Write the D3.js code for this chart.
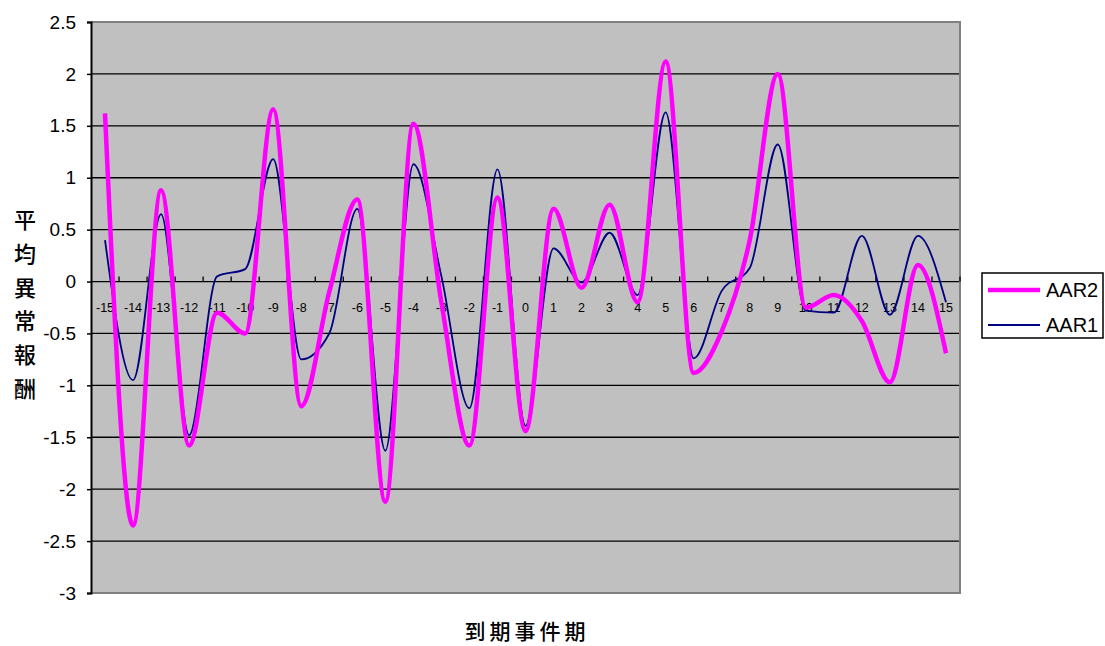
<!DOCTYPE html>
<html><head><meta charset="utf-8">
<script src="https://cdn.jsdelivr.net/npm/d3@7"></script>
<style>body{margin:0;background:#fff;} svg{display:block;}</style>
</head><body>
<svg id="chart" width="1105" height="646"></svg>
<script>
const categories = [-15,-14,-13,-12,-11,-10,-9,-8,-7,-6,-5,-4,-3,-2,-1,0,1,2,3,4,5,6,7,8,9,10,11,12,13,14,15];
const aar2 = [1.62,-2.35,0.88,-1.58,-0.30,-0.50,1.66,-1.20,-0.10,0.79,-2.12,1.52,-0.20,-1.58,0.81,-1.44,0.70,-0.06,0.74,-0.20,2.12,-0.88,-0.48,0.40,2.00,-0.25,-0.13,-0.38,-0.97,0.16,-0.69];
const aar1 = [0.40,-0.95,0.65,-1.48,0.05,0.12,1.18,-0.75,-0.50,0.70,-1.63,1.13,0.05,-1.22,1.08,-1.39,0.32,-0.01,0.47,-0.13,1.63,-0.74,-0.09,0.13,1.32,-0.28,-0.30,0.44,-0.32,0.44,-0.20];
const yTicks = [-3,-2.5,-2,-1.5,-1,-0.5,0,0.5,1,1.5,2,2.5];
const seriesNames = ["AAR2","AAR1"];
const yTitle = "平均異常報酬";
const xTitle = "到期事件期";

const svg = d3.select("#chart");
const L = 91, R = 960, T = 22, B = 593;
const x = d3.scaleBand().domain(categories).range([L, R]).padding(0);
const y = d3.scaleLinear().domain([-3, 2.5]).range([B, T]);
const cx = c => x(c) + x.bandwidth() / 2;

// plot background
svg.append("rect").attr("x", L).attr("y", T).attr("width", R - L).attr("height", B - T).attr("fill", "#C0C0C0");

// gridlines
svg.append("g").selectAll("line").data(yTicks.filter(v => v > -3 && v < 2.5)).join("line")
  .attr("x1", L).attr("x2", R).attr("y1", d => y(d)).attr("y2", d => y(d))
  .attr("stroke", "#000").attr("stroke-width", 1.3);

// border (gray)
svg.append("path").attr("d", `M${L},${T}H${R}V${B}H${L}`).attr("fill", "none").attr("stroke", "#808080").attr("stroke-width", 2);

// y axis
const yAxis = d3.axisLeft(y).tickValues(yTicks).tickSize(4).tickPadding(11).tickFormat(d => String(d));
const gy = svg.append("g").attr("transform", `translate(${L},0)`).call(yAxis);
gy.select(".domain").attr("stroke", "#000").attr("stroke-width", 2);
gy.selectAll(".tick line").attr("stroke", "#000").attr("stroke-width", 1.5);
gy.selectAll(".tick text").attr("font-family", "'Liberation Sans', Arial, sans-serif").attr("font-size", 19).attr("fill", "#000");

// x axis ticks at category boundaries on zero line (pointing up)
const boundaries = categories.slice(1).map(c => x(c)).concat([R]);
svg.append("g").selectAll("line").data(boundaries).join("line")
  .attr("x1", d => d).attr("x2", d => d).attr("y1", y(0)).attr("y2", y(0) - 5)
  .attr("stroke", "#000").attr("stroke-width", 1.3);
svg.append("g").selectAll("text").data(categories).join("text")
  .attr("x", d => cx(d)).attr("y", y(0) + 26).attr("text-anchor", "middle")
  .attr("dominant-baseline", "central")
  .attr("font-family", "'Liberation Sans', Arial, sans-serif").attr("font-size", 12.5).attr("fill", "#000")
  .text(d => d);

// lines
const lineGen = d3.line().x((d, i) => cx(categories[i])).y(d => y(d)).curve(d3.curveMonotoneX);
svg.append("path").datum(aar1).attr("d", lineGen).attr("fill", "none").attr("stroke", "#000080").attr("stroke-width", 1.8);
svg.append("path").datum(aar2).attr("d", lineGen).attr("fill", "none").attr("stroke", "#FF00FF").attr("stroke-width", 4.5).attr("stroke-linejoin", "round");

// y title (stacked chars)
svg.append("g").selectAll("text").data(Array.from(yTitle)).join("text")
  .attr("x", 25).attr("y", (d, i) => 218 + i * 33.8).attr("text-anchor", "middle").attr("dominant-baseline", "central")
  .attr("font-family", "'Noto Sans CJK TC', 'Noto Sans CJK SC', sans-serif").attr("font-size", 22).attr("font-weight", 500).attr("fill", "#000")
  .text(d => d);

// x title
svg.append("text").attr("x", 527).attr("y", 630).attr("text-anchor", "middle").attr("dominant-baseline", "central")
  .attr("font-family", "'Noto Sans CJK TC', 'Noto Sans CJK SC', sans-serif").attr("font-size", 21).attr("font-weight", 500)
  .attr("letter-spacing", 4).attr("fill", "#000").text(xTitle);

// legend
const lg = svg.append("g");
lg.append("rect").attr("x", 982).attr("y", 273).attr("width", 121).attr("height", 65).attr("fill", "#fff").attr("stroke", "#000").attr("stroke-width", 1.5);
const legendItems = [{name: seriesNames[0], color: "#FF00FF", w: 4.5, yy: 290}, {name: seriesNames[1], color: "#000080", w: 1.8, yy: 325}];
legendItems.forEach(it => {
  lg.append("line").attr("x1", 988).attr("x2", 1040).attr("y1", it.yy).attr("y2", it.yy).attr("stroke", it.color).attr("stroke-width", it.w);
  lg.append("text").attr("x", 1046).attr("y", it.yy).attr("dominant-baseline", "central")
    .attr("font-family", "'Liberation Sans', Arial, sans-serif").attr("font-size", 20).attr("fill", "#000").text(it.name);
});
</script>
</body></html>
